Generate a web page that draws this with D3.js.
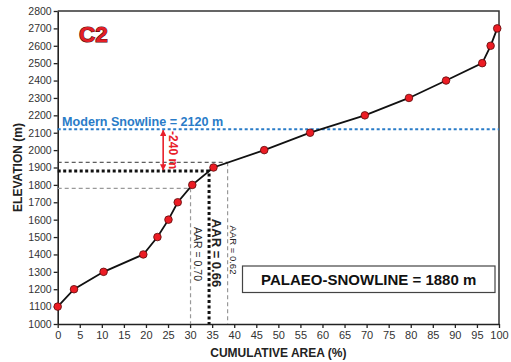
<!DOCTYPE html>
<html><head><meta charset="utf-8">
<script src="https://cdn.jsdelivr.net/npm/d3@7"></script>
<style>
html,body{margin:0;padding:0;background:#fff;}
svg{display:block;font-family:Arial,"Liberation Sans",Helvetica,sans-serif;}
</style></head>
<body><svg id="chart" width="511" height="362"></svg>
<script>
const area = [0, 3.7, 10.4, 19.4, 22.6, 25.1, 27.2, 30.5, 35.3, 46.8, 57.2, 69.6, 79.6, 88.0, 96.2, 98.1, 99.6];
const elevation = [1100, 1200, 1300, 1400, 1500, 1600, 1700, 1800, 1900, 2000, 2100, 2200, 2300, 2400, 2500, 2600, 2700];
const xTicks = d3.range(0, 101, 5);
const yTicks = d3.range(1000, 2801, 100);
const modernSnowline = 2120;
const palaeoSnowline = 1880;
const aarLabels = ["AAR = 0.70", "AAR = 0.66", "AAR = 0.62"];
const aarArea = [30.1, 34.3, 38.5];
const aarElev = [1780, 1880, 1930];

const W = 511, H = 362;
const m = {left: 57.7, right: 12, top: 11, bottom: 38};
const svg = d3.select("#chart");
const x = d3.scaleLinear().domain([0, 100]).range([m.left, W - m.right]);
const y = d3.scaleLinear().domain([1000, 2800]).range([H - m.bottom, m.top]);

svg.append("defs").append("marker")
  .attr("id", "ah").attr("viewBox", "0 0 10 10").attr("refX", 9).attr("refY", 5)
  .attr("markerWidth", 4).attr("markerHeight", 4).attr("orient", "auto-start-reverse")
  .append("path").attr("d", "M0,0L10,5L0,10z").attr("fill", "#e8202a");

// frame top & right
svg.append("path")
  .attr("d", `M${x(0)},${y(2800)}H${x(100)}V${y(1000)}`)
  .attr("fill", "none").attr("stroke", "#333").attr("stroke-width", 1.5);

// axes
const xAxis = svg.append("g").attr("transform", `translate(0,${y(1000)})`)
  .call(d3.axisBottom(x).tickValues(xTicks).tickFormat(d3.format("d")).tickSize(4).tickSizeOuter(0).tickPadding(3));
const yAxis = svg.append("g").attr("transform", `translate(${x(0)},0)`)
  .call(d3.axisLeft(y).tickValues(yTicks).tickFormat(d3.format("d")).tickSize(4).tickSizeOuter(0).tickPadding(2));
[xAxis, yAxis].forEach(g => {
  g.select(".domain").attr("stroke", "#222").attr("stroke-width", 1.6);
  g.selectAll(".tick line").attr("stroke", "#222").attr("stroke-width", 1.3);
  g.selectAll("text").attr("fill", "#333").attr("font-family", "Arial,'Liberation Sans',sans-serif");
});
xAxis.selectAll("text").attr("font-size", 11);
yAxis.selectAll("text").attr("font-size", 10.5);

// axis titles
svg.append("text").attr("x", x(50)).attr("y", 357).attr("text-anchor", "middle")
  .attr("font-weight", "bold").attr("font-size", 12).attr("fill", "#222").text("CUMULATIVE AREA (%)");
svg.append("text").attr("transform", `translate(21.5,${(y(1000)+y(2800))/2}) rotate(-90)`)
  .attr("text-anchor", "middle").attr("font-weight", "bold").attr("font-size", 12).attr("fill", "#222")
  .text("ELEVATION (m)");

// reference lines
svg.append("line").attr("x1", x(0)).attr("x2", x(aarArea[2])).attr("y1", y(aarElev[2])).attr("y2", y(aarElev[2]))
  .attr("stroke", "#333").attr("stroke-width", 1).attr("stroke-dasharray", "4,3");
svg.append("line").attr("x1", x(aarArea[2])).attr("x2", x(aarArea[2])).attr("y1", y(aarElev[2])).attr("y2", y(1000))
  .attr("stroke", "#999").attr("stroke-width", 1.2).attr("stroke-dasharray", "4,3");
svg.append("line").attr("x1", x(0)).attr("x2", x(aarArea[0])).attr("y1", y(aarElev[0])).attr("y2", y(aarElev[0]))
  .attr("stroke", "#999").attr("stroke-width", 1.2).attr("stroke-dasharray", "4,3");
svg.append("line").attr("x1", x(aarArea[0])).attr("x2", x(aarArea[0])).attr("y1", y(aarElev[0])).attr("y2", y(1000))
  .attr("stroke", "#999").attr("stroke-width", 1.2).attr("stroke-dasharray", "4,3");
svg.append("path").attr("d", `M${x(0)},${y(aarElev[1])}H${x(aarArea[1])}V${y(1000)}`)
  .attr("fill", "none").attr("stroke", "#111").attr("stroke-width", 3).attr("stroke-dasharray", "3,2.5");

// modern snowline
svg.append("line").attr("x1", x(0)).attr("x2", x(100)).attr("y1", y(modernSnowline)).attr("y2", y(modernSnowline))
  .attr("stroke", "#2a7cc8").attr("stroke-width", 1.8).attr("stroke-dasharray", "3,2.5");
svg.append("text").attr("x", 62).attr("y", y(modernSnowline) - 3.5)
  .attr("font-weight", "bold").attr("font-size", 12.6).attr("fill", "#2a7cc8")
  .text("Modern Snowline = " + modernSnowline + " m");

// arrow
svg.append("line").attr("x1", x(23.9)).attr("x2", x(23.9))
  .attr("y1", y(modernSnowline) + 1).attr("y2", y(palaeoSnowline) - 1)
  .attr("stroke", "#e8202a").attr("stroke-width", 1.6)
  .attr("marker-start", "url(#ah)").attr("marker-end", "url(#ah)");
svg.append("text").attr("transform", `translate(${x(23.9) + 6},${y((modernSnowline + palaeoSnowline) / 2)}) rotate(90)`)
  .attr("text-anchor", "middle").attr("font-weight", "bold").attr("font-size", 12).attr("fill", "#e8202a")
  .text("-" + (modernSnowline - palaeoSnowline) + " m");

// AAR labels
const aarSize = [10.5, 13, 9.5];
const aarWeight = ["normal", "bold", "normal"];
const aarOff = [3, 3, 2];
const aarMid = [254, 253, 250];
aarLabels.forEach((t, i) => {
  svg.append("text")
    .attr("transform", `translate(${x(aarArea[i]) + aarOff[i]},${aarMid[i]}) rotate(90)`)
    .attr("text-anchor", "middle").attr("font-size", aarSize[i]).attr("font-weight", aarWeight[i])
    .attr("fill", "#222").text(t);
});

// curve
svg.append("path").datum(area.map((a, i) => [a, elevation[i]]))
  .attr("d", d3.line().x(d => x(d[0])).y(d => y(d[1])))
  .attr("fill", "none").attr("stroke", "#111").attr("stroke-width", 1.8);
svg.selectAll("circle.pt").data(area.map((a, i) => [a, elevation[i]])).join("circle")
  .attr("class", "pt").attr("cx", d => x(d[0])).attr("cy", d => y(d[1])).attr("r", 3.8)
  .attr("fill", "#ec1c24").attr("stroke", "#5a0a0a").attr("stroke-width", 0.8);

// title
svg.append("text").attr("x", 79).attr("y", 42).attr("font-weight", "bold").attr("font-size", 22.5)
  .attr("fill", "#e41e26").attr("stroke", "#4a0808").attr("stroke-width", 1.2).attr("paint-order", "stroke")
  .text("C2");

// palaeo-snowline box
const box = svg.append("g");
box.append("rect").attr("x", 242.5).attr("y", 266).attr("width", 252.5).attr("height", 26.5)
  .attr("fill", "#fff").attr("stroke", "#444").attr("stroke-width", 1.2);
box.append("text").attr("x", 368.7).attr("y", 285).attr("text-anchor", "middle")
  .attr("font-weight", "bold").attr("font-size", 15).attr("fill", "#111")
  .text("PALAEO-SNOWLINE = " + palaeoSnowline + " m");
</script></body></html>
